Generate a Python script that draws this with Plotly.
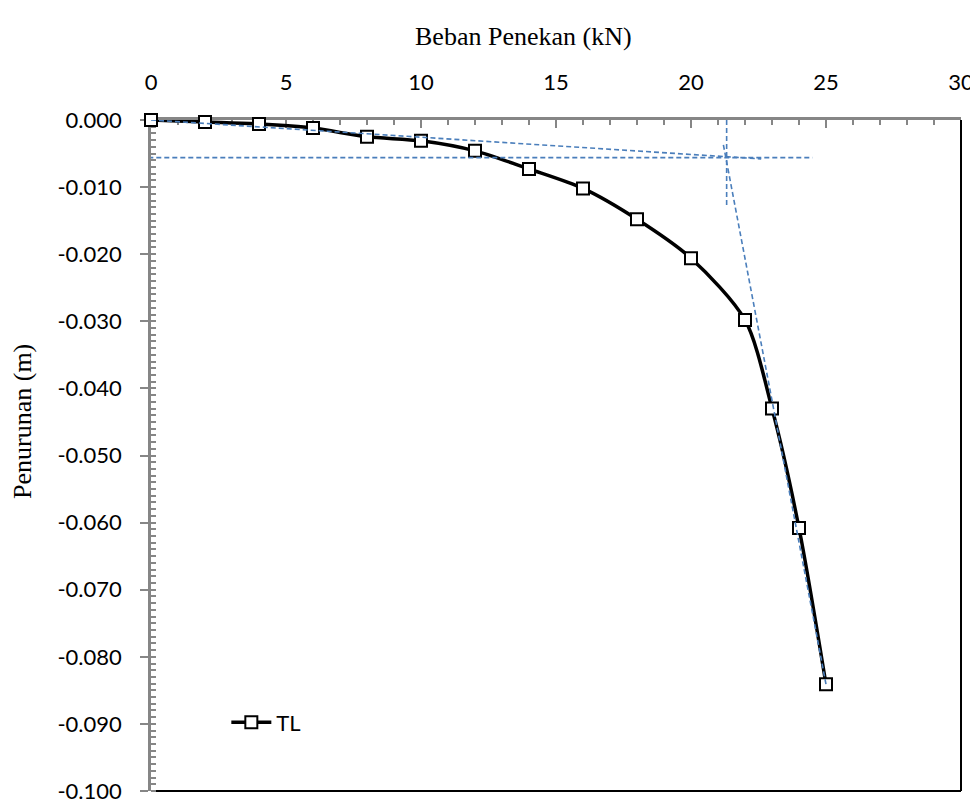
import plotly.graph_objects as go

# ---- data ----
load_kn = [0, 2, 4, 6, 8, 10, 12, 14, 16, 18, 20, 22, 23, 24, 25]
settlement_m = [0.0000, -0.0003, -0.0006, -0.0012, -0.0025, -0.0031, -0.0046,
                -0.0073, -0.0102, -0.0148, -0.0206, -0.0298, -0.0430, -0.0608, -0.0841]
series_name = "TL"

# construction (tangent) lines
initial_tangent_x = [0, 22.6]
initial_tangent_y = [0.0, -0.0058]
horizontal_x = [-0.1, 24.5]
horizontal_y = [-0.0056, -0.0056]
vertical_x = [21.32, 21.32]
vertical_y = [0.0, -0.0128]
steep_tangent_x = [21.2, 25.0]
steep_tangent_y = [-0.0037, -0.0841]

x_tick_vals = [0, 5, 10, 15, 20, 25, 30]
y_tick_vals = [0.0, -0.01, -0.02, -0.03, -0.04, -0.05, -0.06, -0.07, -0.08, -0.09, -0.10]
y_tick_text = ["0.000", "-0.010", "-0.020", "-0.030", "-0.040", "-0.050",
               "-0.060", "-0.070", "-0.080", "-0.090", "-0.100"]

x_title = "Beban Penekan (kN)"
y_title = "Penurunan (m)"

# ---- style ----
GREY = "#868686"
BLUE = "#4A7EBB"
TICK_FONT = dict(family="Lato", size=22, color="#000000")
TITLE_FONT = dict(family="Liberation Serif", size=26, color="#000000")

fig = go.Figure()

fig.add_trace(go.Scatter(
    x=load_kn, y=settlement_m, name=series_name, mode="lines+markers",
    line=dict(color="#000000", width=3.5, shape="spline", smoothing=0.8),
    marker=dict(symbol="square", size=12, color="#FFFFFF",
                line=dict(color="#000000", width=2)),
    cliponaxis=False,
))

for xs, ys in [(initial_tangent_x, initial_tangent_y), (horizontal_x, horizontal_y),
               (vertical_x, vertical_y), (steep_tangent_x, steep_tangent_y)]:
    fig.add_trace(go.Scatter(
        x=xs, y=ys, mode="lines", showlegend=False, hoverinfo="skip",
        line=dict(color=BLUE, width=1.6, dash="5px,3px"), cliponaxis=False,
    ))

fig.update_xaxes(
    side="top", range=[0, 30], tickvals=x_tick_vals,
    showgrid=False, zeroline=False,
    showline=True, linecolor=GREY, linewidth=2.5,
    ticks="inside", ticklen=8, tickwidth=1.5, tickcolor=GREY,
    minor=dict(dtick=1, ticks="inside", ticklen=5, tickwidth=1.5, tickcolor=GREY),
    tickfont=TICK_FONT, ticklabelstandoff=18, layer="below traces",
)
fig.update_yaxes(
    range=[-0.1, 0], tickvals=y_tick_vals, ticktext=y_tick_text,
    showgrid=False, zeroline=False,
    showline=True, linecolor=GREY, linewidth=2.5,
    ticks="outside", ticklen=8, tickwidth=1.5, tickcolor=GREY,
    minor=dict(dtick=0.001, ticks="inside", ticklen=5, tickwidth=1.5, tickcolor=GREY),
    tickfont=TICK_FONT, ticklabelstandoff=14, layer="below traces",
)

# black plot-area border on bottom and right
fig.add_shape(type="line", xref="paper", yref="paper", x0=0, y0=0, x1=1, y1=0,
              line=dict(color="#000000", width=2), layer="below")
fig.add_shape(type="line", xref="paper", yref="paper", x0=1, y0=0, x1=1, y1=1,
              line=dict(color="#000000", width=2), layer="below")

fig.add_annotation(text=x_title, xref="paper", yref="paper", x=0.46, y=1.125,
                   xanchor="center", yanchor="middle", showarrow=False, font=TITLE_FONT)
fig.add_annotation(text=y_title, xref="paper", yref="paper", x=-0.158, y=0.55,
                   xanchor="center", yanchor="middle", showarrow=False, textangle=-90,
                   font=TITLE_FONT)

fig.update_layout(
    width=978, height=808,
    margin=dict(l=143, r=19, t=112, b=16),
    paper_bgcolor="#FFFFFF", plot_bgcolor="#FFFFFF",
    showlegend=True,
    legend=dict(x=0.093, y=0.102, xanchor="left", yanchor="middle",
                font=dict(family="Lato", size=22, color="#000000"),
                bgcolor="rgba(0,0,0,0)", itemwidth=40),
)

fig.write_html("out.html")
